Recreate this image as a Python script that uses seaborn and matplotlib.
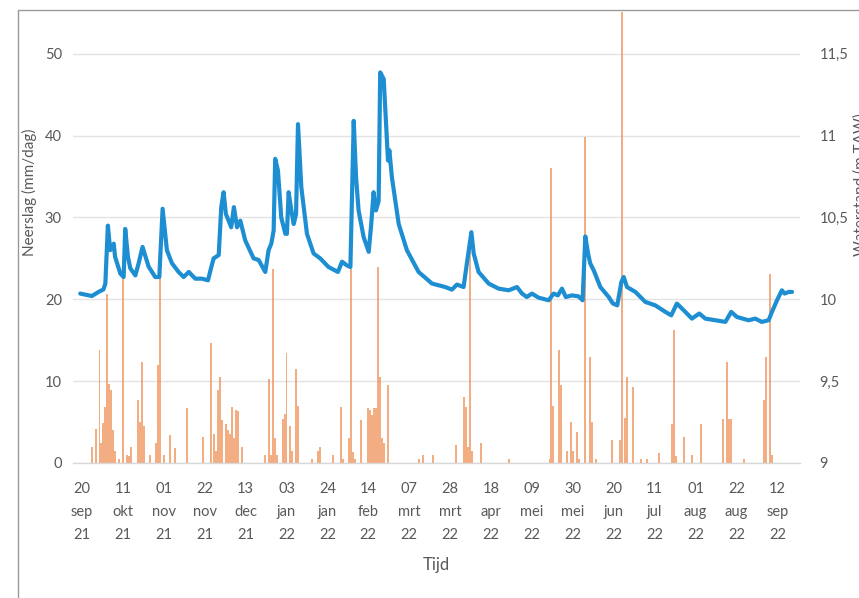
import matplotlib
matplotlib.use("Agg")
import matplotlib.pyplot as plt
import matplotlib.dates as mdates
from matplotlib.lines import Line2D
import seaborn as sns
import pandas as pd
import numpy as np

# ---------------- data ----------------
start_date = "2021-09-20"

tick_labels = ["20\nsep\n21", "11\nokt\n21", "01\nnov\n21", "22\nnov\n21", "13\ndec\n21",
               "03\njan\n22", "24\njan\n22", "14\nfeb\n22", "07\nmrt\n22", "28\nmrt\n22",
               "18\napr\n22", "09\nmei\n22", "30\nmei\n22", "20\njun\n22", "11\njul\n22",
               "01\naug\n22", "22\naug\n22", "12\nsep\n22"]
tick_days = [0, 21, 42, 63, 84, 105, 126, 147, 168, 189, 210, 231, 252, 273, 294, 315, 336, 357]

# daily precipitation (mm/dag), day offset from start_date
rain_day = [5, 7, 9, 10, 11, 12, 13, 14, 15, 16, 17, 19, 21, 23, 24, 25, 29, 30, 31, 32,
            35, 38, 39, 40, 42, 45, 48, 54, 62, 66, 68, 69, 70, 71, 72, 74, 75, 76, 77, 78,
            79, 80, 82, 94, 96, 97, 98, 99, 100, 103, 104, 105, 107, 108, 110, 111, 118, 121,
            122, 129, 133, 134, 137, 138, 139, 140, 143, 147, 148, 149, 150, 151, 152, 153,
            154, 155, 157, 173, 175, 180, 192, 196, 197, 198, 199, 200, 205, 219, 240, 241,
            242, 245, 246, 249, 251, 252, 254, 255, 258, 261, 262, 264, 272, 276, 277, 279,
            280, 283, 287, 290, 296, 303, 304, 305, 309, 313, 318, 329, 331, 332, 333, 340,
            350, 351, 353, 354]
rain_mm = [2.0, 4.2, 13.8, 2.5, 4.9, 6.9, 20.7, 9.7, 8.9, 4.0, 1.5, 0.5, 22.6, 1.0, 0.8, 2.0,
           7.7, 5.0, 12.4, 4.5, 1.0, 2.5, 12.0, 22.7, 1.0, 3.4, 1.8, 6.7, 3.2, 14.6, 3.5, 1.5,
           8.9, 10.5, 5.2, 4.8, 4.0, 3.5, 6.9, 3.0, 6.5, 6.3, 2.0, 1.0, 10.3, 1.0, 23.7, 3.0,
           1.0, 5.4, 6.0, 13.4, 4.5, 1.5, 11.5, 7.0, 0.5, 1.5, 2.0, 1.0, 6.9, 0.5, 3.0, 23.7,
           1.3, 0.5, 5.2, 6.7, 6.5, 5.9, 6.7, 6.7, 23.9, 10.5, 3.0, 2.5, 9.5, 0.5, 1.0, 1.0,
           2.2, 8.1, 6.9, 2.0, 28.2, 1.5, 2.5, 0.5, 0.5, 36.1, 7.0, 13.8, 9.5, 1.5, 5.0, 1.5,
           3.8, 0.5, 39.8, 13.0, 5.0, 0.5, 2.8, 2.8, 58.0, 5.5, 10.5, 9.3, 0.5, 0.5, 1.2, 4.8,
           16.2, 0.8, 3.2, 1.0, 4.8, 5.4, 12.4, 5.4, 5.4, 0.5, 7.7, 13.0, 23.1, 1.0]

# water level (m), day offset from start_date
level_day = [-0.9, 5.1, 8.5, 11.0, 12.0, 13.3, 14.5, 16.3, 17.0, 19.7, 21.4, 22.2, 23.6, 24.8,
             27.4, 29.1, 31.1, 34.2, 37.6, 39.7, 41.4, 43.6, 46.2, 49.6, 52.2, 54.8, 58.2,
             61.6, 64.7, 66.4, 67.6, 70.2, 71.5, 72.7, 73.9, 75.3, 76.6, 78.0, 79.6, 81.3,
             83.8, 88.1, 90.7, 94.1, 95.8, 97.2, 98.4, 99.2, 100.6, 102.3, 104.4, 105.2,
             106.1, 107.5, 108.7, 109.9, 110.9, 112.6, 115.5, 118.9, 122.3, 126.6, 131.4,
             133.5, 136.0, 137.8, 139.5, 140.7, 142.0, 144.6, 147.2, 148.5, 149.7, 150.9,
             152.3, 153.1, 154.9, 157.1, 157.8, 159.1, 162.6, 166.8, 172.8, 179.7, 186.5,
             189.9, 192.5, 195.9, 197.6, 199.9, 201.1, 203.6, 208.8, 213.9, 219.1, 223.3,
             225.9, 228.4, 231.0, 234.4, 239.6, 242.1, 244.3, 246.4, 248.4, 251.5, 254.9,
             257.0, 258.4, 259.8, 260.9, 262.7, 266.1, 270.4, 272.5, 274.8, 276.9, 278.1,
             279.8, 284.1, 289.2, 294.3, 299.5, 302.5, 305.4, 308.9, 313.1, 316.9, 320.0,
             325.1, 330.3, 333.3, 336.2, 342.2, 345.6, 349.0, 352.5, 354.2, 356.8, 359.3,
             360.7, 362.8, 364.5]
level_m = [10.035, 10.02, 10.045, 10.06, 10.095, 10.45, 10.30, 10.34, 10.26, 10.157, 10.136,
           10.43, 10.26, 10.19, 10.146, 10.22, 10.32, 10.20, 10.136, 10.136, 10.553, 10.30,
           10.22, 10.167, 10.136, 10.167, 10.126, 10.126, 10.116, 10.197, 10.25, 10.27,
           10.563, 10.654, 10.52, 10.48, 10.44, 10.563, 10.44, 10.48, 10.36, 10.25, 10.24,
           10.167, 10.30, 10.34, 10.42, 10.858, 10.787, 10.50, 10.40, 10.40, 10.654, 10.543,
           10.46, 10.52, 11.07, 10.685, 10.40, 10.28, 10.25, 10.197, 10.167, 10.23, 10.207,
           10.197, 11.09, 10.746, 10.543, 10.38, 10.29, 10.46, 10.654, 10.543, 10.60, 11.386,
           11.346, 10.848, 10.91, 10.746, 10.46, 10.30, 10.167, 10.096, 10.075, 10.059, 10.09,
           10.075, 10.22, 10.41, 10.28, 10.167, 10.096, 10.065, 10.055, 10.075, 10.035,
           10.014, 10.035, 10.01, 9.994, 10.035, 10.024, 10.065, 10.014, 10.024, 10.018,
           9.994, 10.384, 10.28, 10.22, 10.177, 10.075, 10.014, 9.975, 9.963, 10.106, 10.136,
           10.075, 10.045, 9.984, 9.963, 9.923, 9.902, 9.974, 9.933, 9.882, 9.913, 9.882,
           9.872, 9.862, 9.923, 9.892, 9.872, 9.882, 9.862, 9.872, 9.923, 9.994, 10.055,
           10.035, 10.045, 10.045]

left_ticks = [0, 10, 20, 30, 40, 50]
right_ticks = [9, 9.5, 10, 10.5, 11, 11.5]
right_tick_labels = ["9", "9,5", "10", "10,5", "11", "11,5"]

# ---------------- style ----------------
sns.set_theme(style="white")
plt.rcParams["font.family"] = ["Lato", "DejaVu Sans"]

grey_txt = "#595959"
bar_color = "#EE8A4E"
line_color = "#1E8ED2"

t0 = pd.Timestamp(start_date)
rain_dates = t0 + pd.to_timedelta(rain_day, unit="D")
level_dates = t0 + pd.to_timedelta(level_day, unit="D")
tick_dates = t0 + pd.to_timedelta(tick_days, unit="D")

W, H = 859, 598
fig = plt.figure(figsize=(W / 100, H / 100), dpi=100)
ax = fig.add_axes([73 / W, 1 - 463 / H, (800 - 73) / W, (463 - 12) / H])

# precipitation bars
ax.bar(rain_dates, rain_mm, width=1.0, color=bar_color, alpha=0.7, linewidth=0, zorder=2)
ax.set_ylim(0, 55.1)
ax.set_xlim(t0 - pd.Timedelta(days=4.6), t0 + pd.Timedelta(days=368.6))
ax.set_yticks(left_ticks)
ax.yaxis.grid(True, color="#E3E3E3", lw=1.0)
ax.set_axisbelow(True)
for s in ["top", "left", "right"]:
    ax.spines[s].set_visible(False)
ax.spines["bottom"].set_color("#D9D9D9")
ax.spines["bottom"].set_linewidth(1.0)

ax.set_xticks(tick_dates)
ax.set_xticklabels(tick_labels, linespacing=1.8)
ax.tick_params(axis="x", length=0, pad=14, labelsize=10.5, labelcolor=grey_txt)
ax.tick_params(axis="y", length=0, pad=8, labelsize=10.5, labelcolor=grey_txt)
ax.set_xlabel("")
ax.set_ylabel("")

# water level line on secondary axis
ax2 = ax.twinx()
sns.lineplot(x=level_dates, y=level_m, ax=ax2, color=line_color, lw=3.0, zorder=5)
ax2.set_ylim(9, 9 + 55.1 / 20)
ax2.set_yticks(right_ticks)
ax2.set_yticklabels(right_tick_labels)
ax2.tick_params(axis="y", length=0, pad=14, labelsize=10.5, labelcolor=grey_txt)
for s in ["top", "left", "right", "bottom"]:
    ax2.spines[s].set_visible(False)
ax2.set_ylabel("")
ax2.set_xlabel("")
ax2.grid(False)

# axis titles
fig.text(29 / W, 1 - 192 / H, "Neerslag (mm/dag)", rotation=90, ha="center", va="center",
         fontsize=11, color=grey_txt)
fig.text(861 / W, 1 - 185 / H, "Waterstand (m TAW)", rotation=90, ha="center", va="center",
         fontsize=11, color=grey_txt)
fig.text(436 / W, 1 - 565 / H, "Tijd", ha="center", va="center", fontsize=12, color=grey_txt)

# chart-area frame
fig.add_artist(Line2D([18 / W, 1.01], [1 - 10 / H, 1 - 10 / H], color="#9A9A9A", lw=1.0,
                      transform=fig.transFigure))
fig.add_artist(Line2D([18 / W, 18 / W], [-0.01, 1 - 10 / H], color="#9A9A9A", lw=1.0,
                      transform=fig.transFigure))

fig.savefig("out.png", dpi=100, facecolor="white")
